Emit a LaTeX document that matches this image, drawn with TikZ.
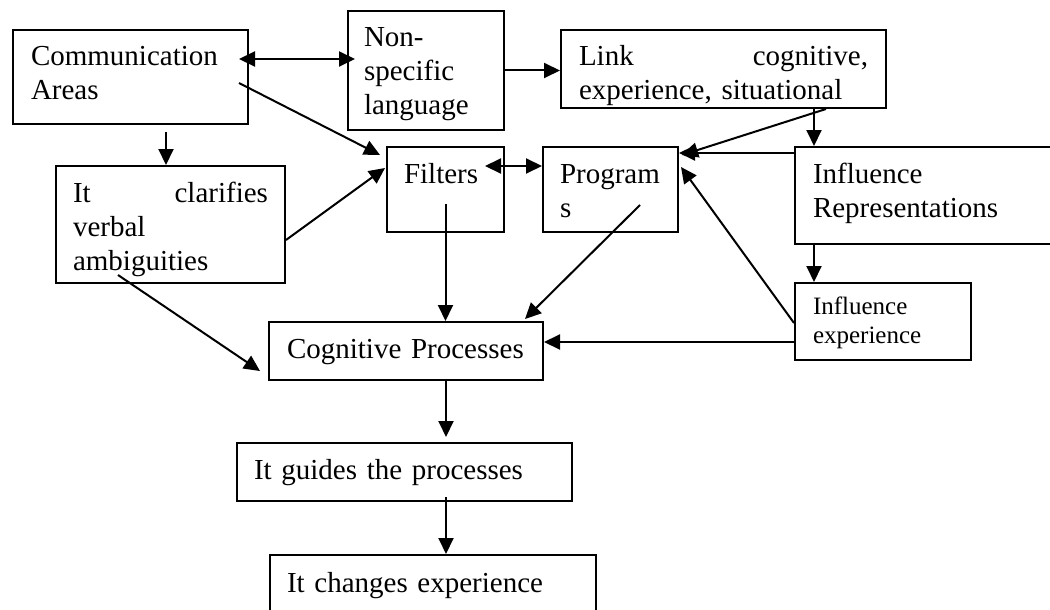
\documentclass[tikz,border=0pt]{standalone}
\usepackage{fontspec}
\setmainfont{Liberation Serif}
\usepackage{tikz}
\usetikzlibrary{arrows.meta}

\begin{document}
\begin{tikzpicture}[
    x=1pt, y=-1pt,
    every node/.style={draw, line width=2pt, anchor=north west, align=left,
        inner xsep=17pt, inner ysep=0pt, text height=36pt,
        font={\fontsize{29}{34}\selectfont}},
    conn/.style={line width=2pt},
    >={Triangle[length=16pt,width=15pt]}
]

\useasboundingbox (0,0) rectangle (1050,610);
\clip (0,0) rectangle (1050,610);

\node (comm) at (12,29) [inner xsep=18pt, text width=199pt, text depth=58pt] {Communication\\Areas};
\node (nonspec) at (347,10) [inner xsep=16pt, text width=124pt, text depth=83pt] {Non-\\specific\\language};
\node (link) at (560,29) [inner xsep=18pt, text width=289pt, text depth=42pt] {\makebox[\linewidth]{Link\hfill cognitive,}\\experience, situational};
\node (clarif) at (55,165) [text width=195pt, text depth=81pt] {\makebox[\linewidth]{It\hfill clarifies}\\verbal\\ambiguities};
\node (filters) at (386,146) [text width=83pt, text depth=49pt] {Filters};
\node (programs) at (542,146) [text width=101pt, text depth=49pt] {Program\\s};
\node (inflrep) at (794,146) [inner xsep=18pt, text width=226pt, text depth=61pt] {Influence\\Representations};
\node (inflexp) at (794,282) [inner xsep=18pt, text width=140pt, text height=31pt, text depth=46pt, font={\fontsize{25}{29}\selectfont}] {Influence\\experience};
\node (cog) at (268,321) [inner xsep=18pt, text width=238pt, text depth=22pt] {Cognitive Processes};
\node (guides) at (236,442) [text width=301pt, text depth=22pt] {It guides the processes};
\node (changes) at (269,554) [text width=292pt, text height=37pt, text depth=31pt] {It changes experience};

\draw[conn, <->] ([xshift=-10pt, yshift=18pt]comm.east) -- ([xshift=8pt, yshift=11.5pt]nonspec.west);
\draw[conn, ->] (nonspec.east) -- (nonspec.east -| link.west);
\draw[conn, ->] ([xshift=-10pt, yshift=-6pt]comm.east) -- ([xshift=-6pt, yshift=-9pt]filters.north west);
\draw[conn, ->] ([xshift=35.5pt, yshift=-7pt]comm.south) -- ([xshift=-4.5pt]clarif.north);
\draw[conn, ->] ([yshift=-15.5pt]clarif.east) -- ([xshift=-1pt, yshift=21.5pt]filters.west);
\draw[conn, ->] ([xshift=-52.5pt, yshift=9pt]clarif.south) -- ([xshift=-8pt, yshift=-20pt]cog.west);
\draw[conn, <->] ([xshift=-20pt, yshift=23.5pt]filters.east) -- ([yshift=23.5pt]programs.west);
\draw[conn, ->] ([yshift=-14.5pt]filters.center) -- (filters.center |- cog.north);
\draw[conn, ->] ([xshift=29.5pt, yshift=-15.5pt]programs.center) -- ([xshift=-19pt, yshift=2pt]cog.north east);
\draw[conn, ->] ([xshift=-61pt]link.south east) -- ([xshift=3pt, yshift=-9pt]programs.north east);
\draw[conn, ->] ([xshift=20pt]inflrep.north west |- link.south) -- ([xshift=20pt]inflrep.north west);
\draw[conn, ->] ([yshift=-7pt]inflrep.north west) -- ([yshift=-7pt]inflrep.north west -| programs.east);
\draw[conn, ->] ([xshift=20pt]inflrep.south west) -- ([xshift=20pt]inflexp.north west);
\draw[conn, ->] ([yshift=-1.5pt]inflexp.west) -- ([xshift=2pt, yshift=-21pt]programs.north east);
\draw[conn, ->] ([yshift=-20.5pt]inflexp.west) -- ([yshift=-20.5pt]inflexp.west -| cog.east);
\draw[conn, ->, shorten >=5pt] ([xshift=40pt]cog.south) -- ([xshift=40pt]cog.south |- guides.north);
\draw[conn, ->] ([xshift=41.5pt, yshift=5pt]guides.south) -- ([xshift=41.5pt]guides.south |- changes.north);

\end{tikzpicture}
\end{document}
